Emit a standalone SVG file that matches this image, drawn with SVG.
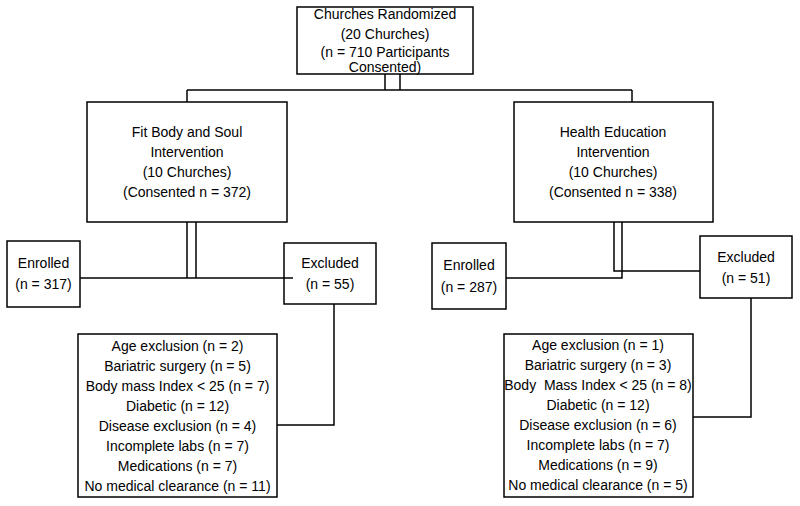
<svg xmlns="http://www.w3.org/2000/svg" width="800" height="506" viewBox="0 0 800 506">
<style>
rect{fill:#fff;stroke:#000;stroke-width:1.5}
.c line,.c polyline{fill:none;stroke:#000;stroke-width:1.5}
text{font-family:"Liberation Sans",Arial,sans-serif;font-size:14px;fill:#000;text-anchor:middle}
</style>
<rect x="0" y="0" width="800" height="506" style="stroke:none"/>
<g class="c" id="connectors">
<line x1="385" y1="74" x2="385" y2="90"/>
<line x1="400" y1="74" x2="400" y2="90"/>
<line x1="187" y1="90" x2="632" y2="90"/>
<line x1="187" y1="90" x2="187" y2="102"/>
<line x1="632" y1="90" x2="632" y2="102"/>
<line x1="187" y1="222" x2="187" y2="278"/>
<line x1="196" y1="222" x2="196" y2="278"/>
<line x1="80" y1="278" x2="293" y2="278"/>
<polyline points="334,304 334,425 277,425"/>
<polyline points="614,222 614,271 702,271"/>
<polyline points="622,222 622,278 506,278"/>
<polyline points="751,298 751,417 693,417"/>
</g>
<g id="top">
<rect x="297" y="7" width="176" height="67"/>
<text x="385" y="19">Churches Randomized</text>
<text x="385" y="39">(20 Churches)</text>
<text x="385" y="57">(n = 710 Participants</text>
<text x="385" y="72">Consented)</text>
</g>
<g id="fbs">
<rect x="87" y="102" width="200" height="120"/>
<text x="187" y="137">Fit Body and Soul</text>
<text x="187" y="157">Intervention</text>
<text x="187" y="177">(10 Churches)</text>
<text x="187" y="197">(Consented n = 372)</text>
</g>
<g id="he">
<rect x="514" y="102" width="199" height="120"/>
<text x="613" y="137">Health Education</text>
<text x="613" y="157">Intervention</text>
<text x="613" y="177">(10 Churches)</text>
<text x="613" y="197">(Consented n = 338)</text>
</g>
<g id="enrolled-left">
<rect x="7" y="241" width="73" height="66"/>
<text x="43.5" y="268">Enrolled</text>
<text x="43.5" y="289">(n = 317)</text>
</g>
<g id="excluded-left">
<rect x="284" y="243" width="92" height="61"/>
<text x="330" y="268">Excluded</text>
<text x="330" y="289">(n = 55)</text>
</g>
<line x1="284" y1="278" x2="293" y2="278" stroke="#000" stroke-width="1.5"/>
<g id="enrolled-right">
<rect x="432" y="243" width="74" height="66"/>
<text x="469" y="270">Enrolled</text>
<text x="469" y="292">(n = 287)</text>
</g>
<g id="excluded-right">
<rect x="700" y="236" width="92" height="62"/>
<text x="746" y="262">Excluded</text>
<text x="746" y="283">(n = 51)</text>
</g>
<g id="reasons-left">
<rect x="78" y="334" width="199" height="163"/>
<text x="177.5" y="351">Age exclusion (n = 2)</text>
<text x="177.5" y="371">Bariatric surgery (n = 5)</text>
<text x="177.5" y="391">Body mass Index &lt; 25 (n = 7)</text>
<text x="177.5" y="411">Diabetic (n = 12)</text>
<text x="177.5" y="431">Disease exclusion (n = 4)</text>
<text x="177.5" y="451">Incomplete labs (n = 7)</text>
<text x="177.5" y="471">Medications (n = 7)</text>
<text x="177.5" y="491">No medical clearance (n = 11)</text>
</g>
<g id="reasons-right">
<rect x="504" y="334" width="189" height="163"/>
<text x="598" y="350">Age exclusion (n = 1)</text>
<text x="598" y="370">Bariatric surgery (n = 3)</text>
<text x="598" y="390" xml:space="preserve">Body  Mass Index &lt; 25 (n = 8)</text>
<text x="598" y="410">Diabetic (n = 12)</text>
<text x="598" y="430">Disease exclusion (n = 6)</text>
<text x="598" y="450">Incomplete labs (n = 7)</text>
<text x="598" y="470">Medications (n = 9)</text>
<text x="598" y="490">No medical clearance (n = 5)</text>
</g>
</svg>
